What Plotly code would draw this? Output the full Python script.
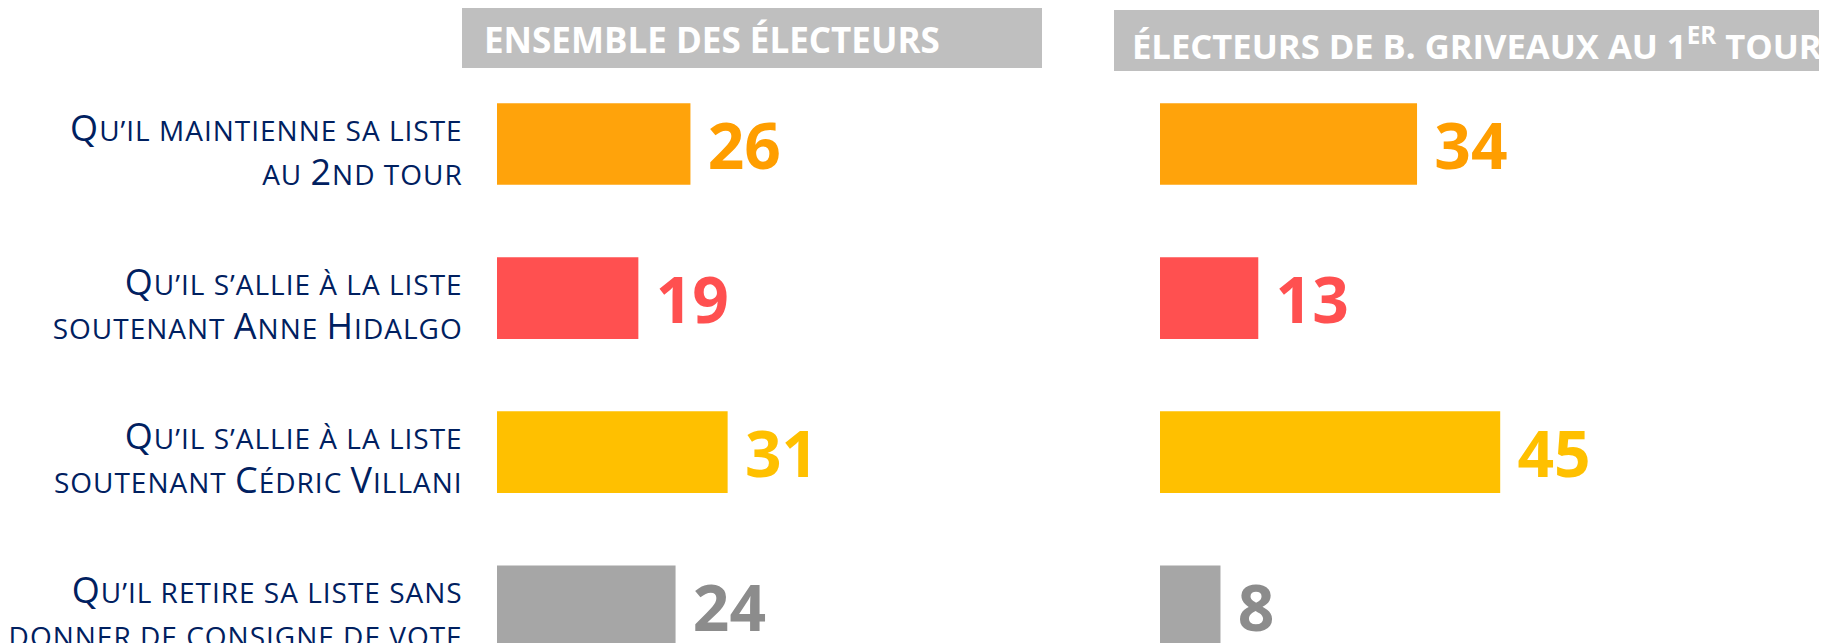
import plotly.graph_objects as go

# ---------------- data ----------------
categories = [
    "Qu’il maintienne sa liste\nau 2nd tour",
    "Qu’il s’allie à la liste\nsoutenant Anne Hidalgo",
    "Qu’il s’allie à la liste\nsoutenant Cédric Villani",
    "Qu’il retire sa liste sans\ndonner de consigne de vote",
]
panel_titles = [
    "ENSEMBLE DES ÉLECTEURS",
    "ÉLECTEURS DE B. GRIVEAUX AU 1<sup>ER</sup> TOUR",
]
values_all = [26, 19, 31, 24]
values_griveaux = [34, 13, 45, 8]

# ---------------- style ----------------
bar_colors = ["#FFA30B", "#FF5050", "#FFC000", "#A6A6A6"]
text_colors = ["#FF9E00", "#FF5050", "#FFC000", "#8C8C8C"]
NAVY = "#002060"
HEADER_BG = "#BFBFBF"
FONT = "Open Sans"
OFF = 8                      # default page body margin
W, H = 1827 - OFF, 643 - OFF
BIG, SMALL = 36, 28


def small_caps(label):
    """Render a label in small caps using sized spans."""
    lines = []
    for line in label.split("\n"):
        runs = []
        cur_big, cur = None, ""
        for ch in line:
            big = ch.isupper() or ch.isdigit()
            if cur_big is None or big == cur_big:
                cur += ch
            else:
                runs.append((cur_big, cur))
                cur = ch
            cur_big = big
        if cur:
            runs.append((cur_big, cur))
        out = "".join(
            f'<span style="font-size:{BIG if b else SMALL}px;letter-spacing:1px">{t.upper()}</span>'
            for b, t in runs
        )
        lines.append(out)
    return "<br>".join(lines)


def px_x(p):
    return (p - OFF) / W


def px_y(p):
    return 1 - (p - OFF) / H


fig = go.Figure()

for vals, xa, ya in [(values_all, "x", "y"), (values_griveaux, "x2", "y2")]:
    fig.add_trace(
        go.Bar(
            x=vals,
            y=categories,
            orientation="h",
            marker=dict(color=bar_colors, line=dict(width=0)),
            texttemplate='<span style="font-size:55px">\u00a0</span>%{x}',
            textposition="outside",
            textfont=dict(family=FONT, size=64, color=text_colors, weight=700),
            cliponaxis=False,
            constraintext="none",
            xaxis=xa,
            yaxis=ya,
            hoverinfo="skip",
        )
    )

# header boxes
shapes = [
    dict(type="rect", xref="paper", yref="paper",
         x0=px_x(462), x1=px_x(1042), y0=px_y(68), y1=px_y(7),
         fillcolor=HEADER_BG, line=dict(width=0), layer="below"),
    dict(type="rect", xref="paper", yref="paper",
         x0=px_x(1114), x1=1.02, y0=px_y(71), y1=px_y(10),
         fillcolor=HEADER_BG, line=dict(width=0), layer="below"),
]
annotations = [
    dict(text=panel_titles[0], xref="paper", yref="paper",
         x=px_x(481.5), y=px_y(39.6), xanchor="left", yanchor="middle",
         showarrow=False, font=dict(family=FONT, size=35, color="white", weight=700)),
    dict(text=panel_titles[1], xref="paper", yref="paper",
         x=px_x(1130), y=px_y(44), xanchor="left", yanchor="middle",
         showarrow=False, font=dict(family=FONT, size=34.6, color="white", weight=700)),
]

# y range so that bar centres land at ~144, 298, 452, 606 px (page coords)
step = 154.1
top = -(144.0 - OFF) / step
bottom = top + H / step

x0_left, k_left = 497, 7.44
x0_right, k_right = 1160, 7.56

fig.update_layout(
    width=W,
    height=H,
    margin=dict(l=0, r=0, t=0, b=0, pad=0, autoexpand=False),
    paper_bgcolor="white",
    plot_bgcolor="white",
    showlegend=False,
    bargap=0.47,
    shapes=shapes,
    annotations=annotations,
    xaxis=dict(domain=[px_x(x0_left), px_x(x0_left + 40 * k_left)], range=[0, 40],
               visible=False, automargin=False),
    xaxis2=dict(domain=[px_x(x0_right), px_x(x0_right + 60 * k_right)], range=[0, 60],
                visible=False, automargin=False),
    yaxis=dict(
        type="category",
        categoryorder="array",
        categoryarray=categories,
        range=[bottom, top],
        tickvals=categories,
        ticktext=[small_caps(c) for c in categories],
        tickfont=dict(family=FONT, size=34, color=NAVY),
        ticks="outside",
        ticklen=26.5,
        tickcolor="rgba(0,0,0,0)",
        ticklabelshift=-7,
        showline=False,
        showgrid=False,
        zeroline=False,
        automargin=False,
        anchor="x",
    ),
    yaxis2=dict(
        matches="y",
        anchor="x2",
        showticklabels=False,
        ticks="",
        showline=False,
        showgrid=False,
        zeroline=False,
        automargin=False,
    ),
)

fig.write_html("out.html")
